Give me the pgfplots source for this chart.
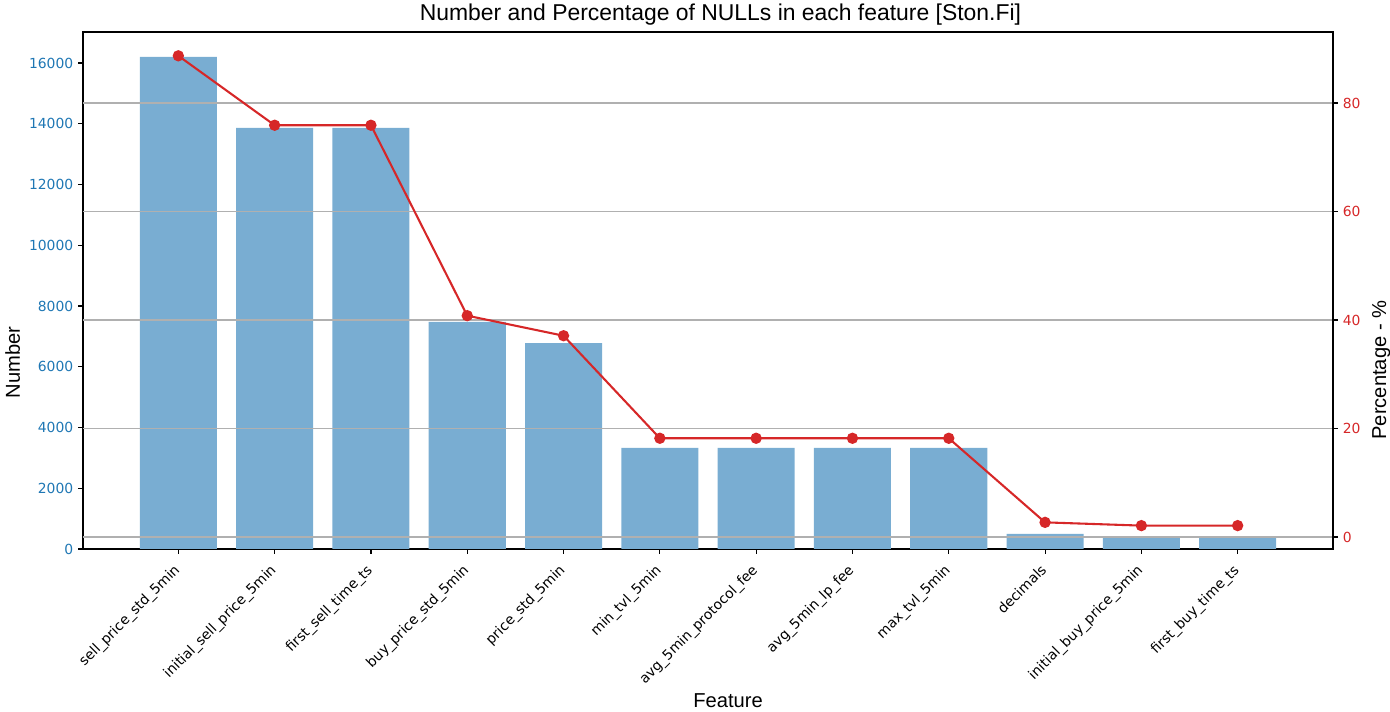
\documentclass[border=0pt]{standalone}
\usepackage{pgfplots}
\usepackage{pgfplotstable}
\pgfplotsset{compat=1.18}
\usepackage{fontspec}
\setmainfont{DejaVu Sans}
\newfontfamily\labelfont{Liberation Sans}

\definecolor{barblue}{HTML}{79ADD2}
\definecolor{tabblue}{HTML}{1F77B4}
\definecolor{tabred}{HTML}{D62728}
\definecolor{gridgray}{HTML}{B0B0B0}

% nulls per feature: position, count, percentage
\pgfplotstableread{
idx count pct
0  16200 88.7
1  13860 75.9
2  13860 75.9
3  7475  40.8
4  6780  37.1
5  3325  18.2
6  3325  18.2
7  3325  18.2
8  3325  18.2
9  495   2.7
10 395   2.1
11 395   2.1
}\nulls

\begin{document}
\begin{tikzpicture}
\useasboundingbox (-59.76pt,-117.36pt) rectangle (941.04pt,395.28pt);

\begin{axis}[
    at={(0,0)}, anchor=south west,
    scale only axis,
    width=900pt, height=372.24pt,
    xmin=-0.99, xmax=11.99,
    ymin=0, ymax=17020,
    axis line style={line width=0.8pt},
    tick style={black, line width=0.8pt},
    tick align=outside,
    major tick length=3.5pt,
    xtick={0,...,11},
    xticklabels={sell\_price\_std\_5min, initial\_sell\_price\_5min, first\_sell\_time\_ts,
        buy\_price\_std\_5min, price\_std\_5min, min\_tvl\_5min, avg\_5min\_protocol\_fee,
        avg\_5min\_lp\_fee, max\_tvl\_5min, decimals, initial\_buy\_price\_5min, first\_buy\_time\_ts},
    xticklabel style={rotate=45, anchor=north east, font=\fontsize{10}{12}\selectfont, inner sep=2pt, xshift=-5.5pt},
    ytick={0,2000,...,16000},
    scaled y ticks=false,
    ytick pos=left,
    xtick pos=bottom,
    yticklabel style={text=tabblue, font=\fontsize{10}{12}\selectfont},
    /pgf/number format/1000 sep={},
    /pgf/number format/assume math mode=true,
    title={Number and Percentage of NULLs in each feature [Ston.Fi]},
    title style={font=\labelfont\fontsize{16.5}{19}\selectfont, at={(axis description cs:0.51,1)}, anchor=base, yshift=2.6pt},
    xlabel={Feature},
    xlabel style={font=\labelfont\fontsize{14.5}{17}\selectfont, at={(axis description cs:0.516,0)}, anchor=base, yshift=-113.8pt},
    ylabel={Number},
    ylabel style={font=\labelfont\fontsize{14.5}{17}\selectfont, at={(axis description cs:-0.0504,0.361)}, anchor=base},
]
\addplot[ybar, bar width=0.8, fill=barblue, draw=none] table[x=idx, y=count] {\nulls};
\end{axis}

\begin{axis}[
    at={(0,0)}, anchor=south west,
    scale only axis,
    width=900pt, height=372.24pt,
    xmin=-0.99, xmax=11.99,
    ymin=-2.21, ymax=93.09,
    axis x line=none,
    axis y line*=right,
    axis line style={line width=0.8pt},
    tick style={black, line width=0.8pt},
    tick align=outside,
    major tick length=3.5pt,
    ytick={0,20,40,60,80},
    yticklabel style={text=tabred, font=\fontsize{10}{12}\selectfont},
    /pgf/number format/assume math mode=true,
    ymajorgrids,
    grid style={gridgray, line width=0.8pt},
    ylabel={Percentage - \%},
    ylabel style={font=\labelfont\fontsize{14.5}{17}\selectfont, at={(axis description cs:1.0424,0.346)}, anchor=base, rotate=0},
]
\addplot[tabred, line width=1.5pt, mark=*, mark size=3.3pt] table[x=idx, y=pct] {\nulls};
\end{axis}
\end{tikzpicture}
\end{document}
